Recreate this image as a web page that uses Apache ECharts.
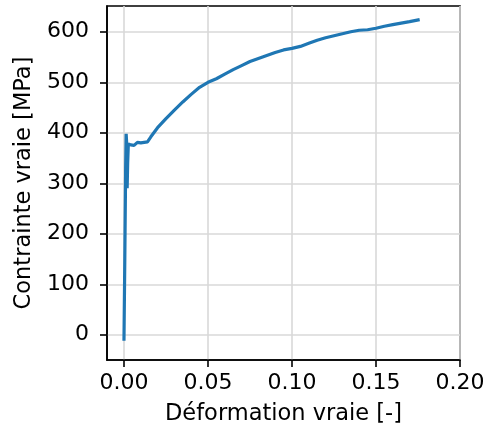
<!DOCTYPE html>
<html><head><meta charset="utf-8">
<script src="https://cdn.jsdelivr.net/npm/echarts@6/dist/echarts.min.js"></script>
<style>html,body{margin:0;padding:0;background:#fff}#c{width:489px;height:432px}</style>
</head><body><div id="c"></div>
<script>
const strain = [0,0.0005,0.001,0.0013,0.0016,0.0019,0.0022,0.0026,0.004,0.006,0.008,0.01,0.012,0.014,0.016,0.02,0.025,0.03,0.035,0.04,0.045,0.05,0.055,0.06,0.065,0.07,0.075,0.08,0.085,0.09,0.095,0.1,0.105,0.11,0.115,0.12,0.125,0.13,0.135,0.14,0.145,0.15,0.155,0.16,0.165,0.17,0.176];
const stress = [-12,150,330,398,380,290,340,378,376,375,381,380,381,382,392,410,428,445,461,476,490,500,507,516,525,533,541,547,553,559,564,567,571,577,583,588,592,596,600,603,604,607,611,614,617,620,624];
const xTicks = [0,0.05,0.10,0.15,0.20];
const yTicks = [0,100,200,300,400,500,600];
const xTitle = 'Déformation vraie [-]';
const yTitle = 'Contrainte vraie [MPa]';

const font = 'DejaVu Sans';
const chart = echarts.init(document.getElementById('c'));
chart.setOption({
  animation:false,
  grid:{left:107,top:6,width:353,height:354,show:true,borderColor:'#000',borderWidth:1.6,backgroundColor:'transparent'},
  xAxis:{type:'value',min:-0.0101,max:0.2,
    name:xTitle,nameLocation:'middle',nameGap:43,
    nameTextStyle:{fontFamily:font,fontSize:22.5,color:'#000'},
    axisLine:{show:true,onZero:false,lineStyle:{color:'#000',width:1.6}},
    axisTick:{show:true,length:7,customValues:xTicks,lineStyle:{color:'#000',width:1.6}},
    axisLabel:{customValues:xTicks,fontFamily:font,fontSize:22,color:'#000',margin:12,formatter:v=>v.toFixed(2)},
    splitLine:{show:true,lineStyle:{color:'#d9d9d9',width:1.6}}
  },
  yAxis:{type:'value',min:-50,max:651,
    name:yTitle,nameLocation:'middle',nameGap:70,
    nameTextStyle:{fontFamily:font,fontSize:22.5,color:'#000'},
    axisLine:{show:true,onZero:false,lineStyle:{color:'#000',width:1.6}},
    axisTick:{show:true,length:7,customValues:yTicks,lineStyle:{color:'#000',width:1.6}},
    axisLabel:{customValues:yTicks,fontFamily:font,fontSize:22,color:'#000',margin:18},
    splitLine:{show:true,lineStyle:{color:'#d9d9d9',width:1.6}}
  },
  series:[{type:'line',data:strain.map((x,i)=>[x,stress[i]]),showSymbol:false,
    lineStyle:{color:'#1f77b4',width:3.2},itemStyle:{color:'#1f77b4'}}]
});
</script></body></html>
